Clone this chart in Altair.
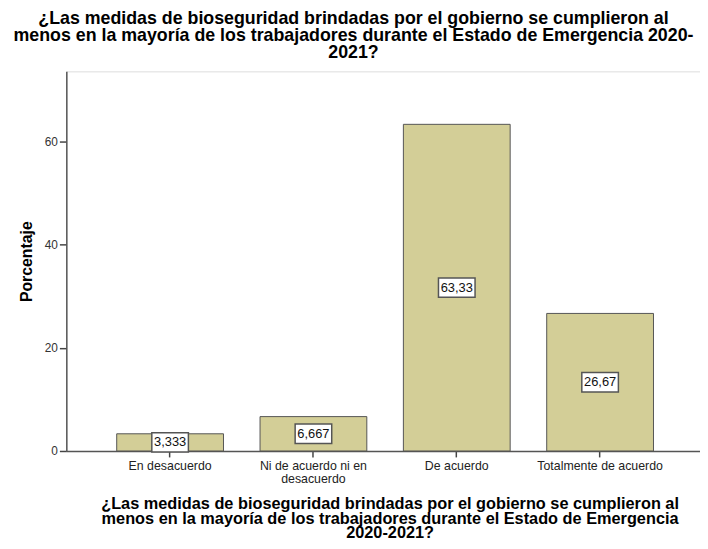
import altair as alt
import pandas as pd

categories = ["En desacuerdo", "Ni de acuerdo ni en desacuerdo", "De acuerdo", "Totalmente de acuerdo"]
values = [3.333, 6.667, 63.33, 26.67]
value_labels = ["3,333", "6,667", "63,33", "26,67"]
y_ticks = [0, 20, 40, 60]

title_lines = [
    "¿Las medidas de bioseguridad brindadas por el gobierno se cumplieron al",
    "menos en la mayoría de los trabajadores durante el Estado de Emergencia 2020-",
    "2021?",
]
x_title_lines = [
    "¿Las medidas de bioseguridad brindadas por el gobierno se cumplieron al",
    "menos en la mayoría de los trabajadores durante el Estado de Emergencia",
    "2020-2021?",
]

df = pd.DataFrame({"cat": categories, "pct": values, "lab": value_labels})
df["mid"] = df["pct"] / 2

FONT = "Liberation Sans"

x_enc = alt.X(
    "cat:N",
    sort=categories,
    scale=alt.Scale(paddingInner=0.255, paddingOuter=0.338, align=0.52),
    axis=alt.Axis(
        title=x_title_lines,
        titleFont=FONT,
        titleFontSize=16.5,
        titleFontWeight="bold",
        titleColor="#000000",
        titleLineHeight=14.5,
        titlePadding=11,
        titleX=327,
        labelAngle=0,
        labelFont=FONT,
        labelFontSize=12.5,
        labelColor="#222222",
        labelPadding=3,
        labelLineHeight=13,
        labelExpr="datum.value == 'Ni de acuerdo ni en desacuerdo' ? ['Ni de acuerdo ni en', 'desacuerdo'] : datum.value",
        tickSize=6,
        tickColor="#444444",
        tickWidth=1.5,
        domainColor="#555555",
        domainWidth=1.5,
    ),
)

y_scale = alt.Scale(domain=[0, 73.6], nice=False, zero=True)

bars = alt.Chart(df).mark_bar(
    color="#d3ce97", stroke="#555555", strokeWidth=1
).encode(
    x=x_enc,
    y=alt.Y(
        "pct:Q",
        scale=y_scale,
        axis=alt.Axis(
            title="Porcentaje",
            titleFont=FONT,
            titleFontSize=16,
            titleFontWeight="bold",
            titleColor="#000000",
            titlePadding=10,
            values=y_ticks,
            grid=False,
            labelFont=FONT,
            labelFontSize=12,
            labelColor="#333333",
            labelPadding=2,
            tickSize=7,
            tickColor="#444444",
            tickWidth=1.5,
            domainColor="#555555",
            domainWidth=1.5,
        ),
    ),
)

boxes = alt.Chart(df).mark_point(
    shape="M-1,-0.53L1,-0.53L1,0.53L-1,0.53Z",
    size=1369,
    filled=True,
    fill="white",
    fillOpacity=1,
    stroke="#555555",
    strokeWidth=1.5,
    opacity=1,
).encode(
    x=alt.X("cat:N", sort=categories),
    y=alt.Y("mid:Q", scale=y_scale),
)

labels = alt.Chart(df).mark_text(
    font=FONT, fontSize=13, color="#111111", baseline="middle", align="center"
).encode(
    x=alt.X("cat:N", sort=categories),
    y=alt.Y("mid:Q", scale=y_scale),
    text="lab:N",
)

chart = alt.layer(bars, boxes, labels).properties(
    width=641,
    height=384,
    autosize=alt.AutoSizeParams(type="none"),
    padding={"left": 59, "top": 61, "right": 0, "bottom": 92},
    title=alt.TitleParams(
        text=title_lines,
        font=FONT,
        fontSize=18,
        fontWeight="bold",
        color="#000000",
        anchor="middle",
        dx=-30,
        lineHeight=17,
        offset=10,
    ),
).configure_view(
    fill="#f0f0f0", stroke="#888888", strokeWidth=1
).configure(background="white")

chart.save("out.html", embed_options={"renderer": "svg", "actions": False})
